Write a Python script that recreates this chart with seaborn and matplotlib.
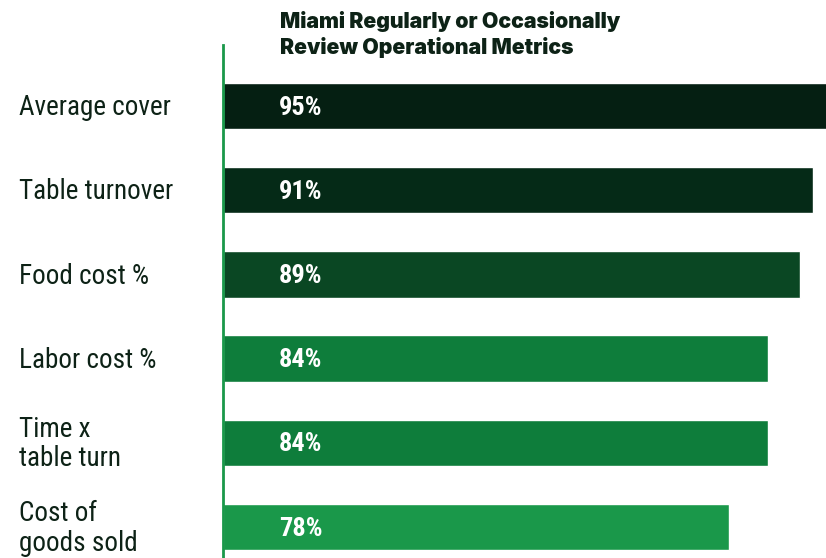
import matplotlib
matplotlib.use("Agg")
import matplotlib.pyplot as plt
import matplotlib.transforms as mtransforms
from matplotlib import font_manager
import seaborn as sns

# data
categories = ["Average cover", "Table turnover", "Food cost %", "Labor cost %",
              "Time x\ntable turn", "Cost of\ngoods sold"]
values = [95, 91, 89, 84, 84, 78]
bar_colors = ["#051f12", "#052a17", "#0a4723", "#0e7d3b", "#0e7d3b", "#1a984a"]
title = "Miami Regularly or Occasionally\nReview Operational Metrics"

# pick a narrow font if one is around
names = {f.name for f in font_manager.fontManager.ttflist}
narrow = "Roboto"
for cand in ["Roboto Condensed", "Liberation Sans Narrow", "Open Sans Condensed", "Roboto"]:
    if cand in names:
        narrow = cand
        break
title_font = "Inter" if "Inter" in names else "DejaVu Sans"

sns.set_style("white")
plt.rcParams["font.family"] = [narrow, "DejaVu Sans"]

fig = plt.figure(figsize=(8.26, 5.58), dpi=100)
ax = fig.add_axes([223 / 826, 0, 603 / 826, 513 / 558])

df_cats = list(range(len(categories)))
sns.barplot(x=values, y=df_cats, hue=df_cats, palette=bar_colors, orient="h",
            width=0.55, legend=False, dodge=False, ax=ax, saturation=1)

ax.set_xlim(0, 93.0)
ax.set_ylim(5.37, -0.725)
ax.set_xticks([])
ax.set_yticks([])
ax.set_xlabel("")
ax.set_ylabel("")
for s in ["top", "right", "bottom"]:
    ax.spines[s].set_visible(False)
ax.spines["left"].set_color("#1a984a")
ax.spines["left"].set_linewidth(2)

label_color = "#0d2216"
tr = mtransforms.blended_transform_factory(fig.transFigure, ax.transData)
for i, (cat, v) in enumerate(zip(categories, values)):
    ax.text(19 / 826, i + 0.02, cat, transform=tr, ha="left", va="center",
            fontsize=19.5, color=label_color,
            family=[narrow, "DejaVu Sans"], linespacing=1.1, clip_on=False)
    ax.text(8.66, i + 0.02, f"{v}%", ha="left", va="center", fontsize=19,
            fontweight="bold", color="white", family=[narrow, "DejaVu Sans"])

fig.text(280 / 826, 1 - 11 / 558, title, ha="left", va="top", fontsize=15.3,
         fontweight="black", color=label_color, family=[title_font, "DejaVu Sans"],
         linespacing=1.27)

fig.savefig("out.png", dpi=100)
